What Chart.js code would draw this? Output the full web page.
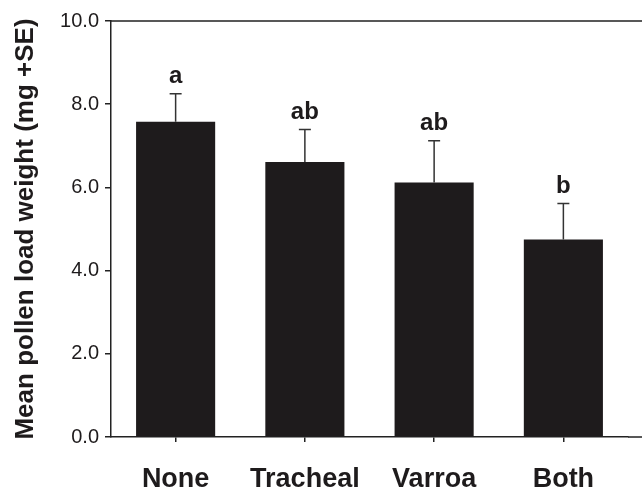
<!DOCTYPE html>
<html>
<head>
<meta charset="utf-8">
<script src="https://cdn.jsdelivr.net/npm/chart.js@4"></script>
<style>
    html, body { margin: 0; padding: 0; background: #fff; }
    #wrap { width: 642px; height: 492px; }
</style>
</head>
<body>
<div id="wrap"><canvas id="pollenChart" width="642" height="492"></canvas></div>
<script>
const categories = ["None", "Tracheal", "Varroa", "Both"];
const meanWeight = [7.58, 6.61, 6.12, 4.75];
const seWeight = [0.67, 0.78, 1.00, 0.86];
const groupLetters = ["a", "ab", "ab", "b"];
const yTicks = [0, 2, 4, 6, 8, 10];

const ink = "#1e1b1c";

// error bars (+SE only) and the significance letters above them
const errorBarPlugin = {
    id: "errorBars",
    afterDatasetsDraw(chart) {
        let ctx = chart.ctx;
        let meta = chart.getDatasetMeta(0);
        let yScale = chart.scales.y;
        ctx.save();
        ctx.strokeStyle = "#333";
        ctx.lineWidth = 1.5;
        meta.data.forEach((bar, i) => {
            let yTop = yScale.getPixelForValue(meanWeight[i] + seWeight[i]);
            let yBase = yScale.getPixelForValue(meanWeight[i]);
            ctx.beginPath();
            ctx.moveTo(bar.x, yBase);
            ctx.lineTo(bar.x, yTop);
            ctx.moveTo(bar.x - 6, yTop);
            ctx.lineTo(bar.x + 6, yTop);
            ctx.stroke();

            ctx.fillStyle = ink;
            ctx.font = "bold 24px 'Liberation Sans', Arial, sans-serif";
            ctx.textAlign = "center";
            ctx.textBaseline = "alphabetic";
            ctx.fillText(groupLetters[i], bar.x, yTop - 11);
        });
        ctx.restore();
    }
};

// top frame line and axis line carried to the right edge
const framePlugin = {
    id: "frame",
    afterDraw(chart) {
        let ctx = chart.ctx;
        let area = chart.chartArea;
        let yScale = chart.scales.y;
        let yTopLine = yScale.getPixelForValue(10);
        let yBottomLine = yScale.getPixelForValue(0);
        ctx.save();
        ctx.strokeStyle = "#222";
        ctx.lineWidth = 1.5;
        ctx.beginPath();
        ctx.moveTo(area.left, yTopLine);
        ctx.lineTo(chart.width, yTopLine);
        ctx.moveTo(area.right, yBottomLine);
        ctx.lineTo(chart.width, yBottomLine);
        ctx.stroke();
        ctx.restore();
    }
};

const ctx = document.getElementById("pollenChart").getContext("2d");

const chart = new Chart(ctx, {
    type: "bar",
    data: {
        labels: categories,
        datasets: [{
            data: meanWeight,
            backgroundColor: ink,
            borderWidth: 0,
            barPercentage: 1,
            categoryPercentage: 0.612
        }]
    },
    options: {
        responsive: false,
        animation: false,
        layout: { padding: { top: 21, right: 14, left: 0, bottom: 0 } },
        plugins: {
            legend: { display: false },
            tooltip: { enabled: false }
        },
        scales: {
            x: {
                afterFit(scale) { scale.height = 55; },
                grid: {
                    display: true,
                    offset: false,
                    drawOnChartArea: false,
                    tickLength: 5,
                    color: "#222",
                    lineWidth: 1.5
                },
                border: { display: true, color: "#222", width: 1.5 },
                ticks: {
                    color: ink,
                    padding: 21,
                    font: { family: "'Liberation Sans', Arial, sans-serif", size: 27, weight: "bold" }
                }
            },
            y: {
                min: 0,
                max: 10,
                afterFit(scale) { scale.width = 111; },
                afterBuildTicks(scale) {
                    scale.ticks = yTicks.map(v => ({ value: v }));
                },
                grid: {
                    drawOnChartArea: false,
                    tickLength: 6,
                    color: "#222",
                    lineWidth: 1.5
                },
                border: { display: true, color: "#222", width: 1.5 },
                ticks: {
                    color: ink,
                    padding: 6,
                    font: { family: "'Liberation Sans', Arial, sans-serif", size: 20 },
                    callback: v => v.toFixed(1)
                },
                title: {
                    display: true,
                    text: "Mean pollen load weight (mg +SE)",
                    color: ink,
                    padding: { top: 10, bottom: 0 },
                    font: { family: "'Liberation Sans', Arial, sans-serif", size: 26, weight: "bold" }
                }
            }
        }
    },
    plugins: [errorBarPlugin, framePlugin]
});
</script>
</body>
</html>
